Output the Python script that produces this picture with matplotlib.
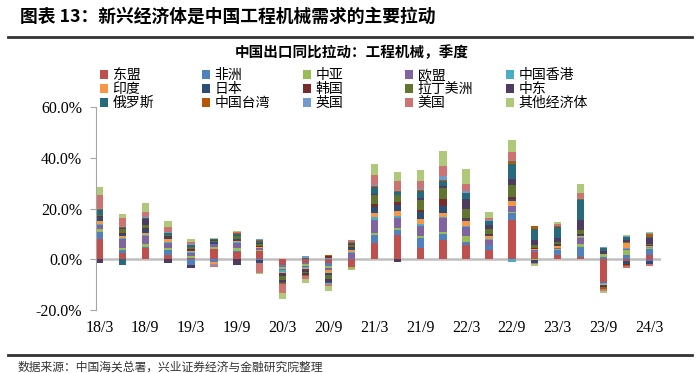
import numpy as np
import matplotlib
matplotlib.use("Agg")
import matplotlib.pyplot as plt
from matplotlib.patches import Patch
from matplotlib.lines import Line2D

plt.rcParams['font.family'] = ['Noto Sans CJK SC', 'DejaVu Sans']

# quarters 18/3 .. 24/3
quarters = ['18/3', '18/6', '18/9', '18/12', '19/3', '19/6', '19/9', '19/12',
            '20/3', '20/6', '20/9', '20/12', '21/3', '21/6', '21/9', '21/12',
            '22/3', '22/6', '22/9', '22/12', '23/3', '23/6', '23/9', '23/12', '24/3']

series = ['东盟', '非洲', '中亚', '欧盟', '中国香港', '印度', '日本', '韩国',
          '拉丁美洲', '中东', '俄罗斯', '中国台湾', '英国', '美国', '其他经济体']

colors = ['#C0504D', '#4F81BD', '#9BBB59', '#8064A2', '#4BACC6', '#F79646',
          '#2C4D75', '#772C2A', '#5F7530', '#4D3B62', '#276A7C', '#B65708',
          '#729ACA', '#CD7371', '#AFC97A']

# contributions in percentage points, one list per partner
asean   = [8.1, 2.6, 4.6, 1.6, 0.5, 4.0, 2.9, 3.3, -2.4, -1.6, -1.5, -2.9, 6.5, 9.5, 4.6, 7.7, 5.5, 3.5, 15.5, 2.9, 1.6, 0.8, -8.8, -0.5, 1.7]
africa  = [2.6, 1.1, 0.3, 2.1, -2.2, -1.0, 0.3, -0.3, -0.8, -0.4, -1.0, 0.5, 3.0, 2.0, 3.9, 2.3, 1.3, 2.0, 2.6, 0.3, 2.0, 4.0, 0.8, 1.7, 2.2]
c_asia  = [1.1, 0.9, 1.2, 0.9, 0.6, 0.8, 1.3, 0.5, -0.6, -0.5, -1.0, -0.8, 0.9, 1.0, 0.5, 0.6, 2.2, 0.3, 0.6, -0.4, 0.3, 1.3, 1.3, 2.0, 0.4]
eu      = [1.6, 3.3, 3.1, 1.7, 1.4, 1.2, 1.8, 0.5, -0.5, -0.6, -0.8, 2.0, 5.0, 3.9, 4.0, 5.6, 3.9, 1.9, 2.4, 0.3, 0.4, 2.4, -0.6, 0.4, -0.8]
hk      = [0.3, 0.6, 0.3, 0.3, 0.3, 0.2, 0.6, 0.3, -0.9, -0.3, 0.4, 0.3, 1.3, 0.5, 0.9, 0.5, 0.4, 0.4, -1.0, 0.2, 0.3, 0.3, -0.2, 0.4, 0.6]
india   = [1.3, 0.5, 0.9, 1.3, 0.5, -0.8, 0.3, 0.4, -0.3, -0.6, -1.0, 1.0, 1.6, 2.0, 2.0, 1.7, 1.7, 0.9, 1.8, 0.3, 0.6, 0.5, -0.4, 1.9, 0.3]
japan   = [1.5, 1.0, 1.7, 0.8, 0.5, 0.5, 0.6, -1.0, -0.7, -0.8, -0.8, 0.8, 2.1, 2.4, 2.6, 2.6, 0.8, 0.6, 1.0, -1.0, 0.5, 0.4, -0.6, -1.2, -0.9]
korea   = [0.5, 0.5, 0.4, 0.4, 0.4, 0.2, 0.3, 0.3, -0.4, -0.3, 0.9, 0.4, 1.3, 1.3, 0.9, 2.9, 0.6, 0.4, 0.5, 0.3, 0.3, 0.4, -0.3, -0.4, 0.3]
latam   = [0.6, 1.3, 0.9, 0.6, 0.8, 0.2, 1.0, 0.6, -1.6, -0.5, -1.8, 0.6, 3.5, 2.6, 3.9, 4.0, 3.5, 1.9, 4.8, 1.3, 0.9, 1.5, -0.6, 0.4, 0.6]
mideast = [-1.6, 0.6, 2.3, -1.3, -1.3, 0.3, -2.4, 0.4, -0.7, -0.7, -1.0, 0.5, 0.7, -1.2, 1.0, 0.9, 3.7, 1.7, 2.6, 2.0, 1.3, 3.7, 1.3, 0.8, 2.3]
russia  = [2.0, -2.2, 0.5, 0.6, 0.6, 0.6, 0.9, 0.8, -0.5, 0.6, -0.6, 0.4, 2.6, 1.3, 2.6, 2.0, 2.4, 1.3, 5.9, 4.5, 4.5, 8.2, 1.0, 1.2, 0.4]
taiwan  = [0.2, 0.3, 0.2, 0.2, 0.2, 0.1, 0.2, 0.4, -0.2, -0.2, 0.3, 0.2, 0.3, 0.3, 0.3, 0.6, 0.3, 0.2, 0.9, 0.9, 0.3, 0.3, -0.4, -0.5, 1.2]
uk      = [0.4, 0.4, 0.3, 0.3, 0.2, -0.3, 0.2, 0.3, -0.3, 0.5, -0.4, 0.2, 0.6, 0.5, 0.6, 1.3, 0.5, 0.3, 0.5, 0.2, 0.2, 0.2, 0.4, 0.3, 0.3]
usa     = [5.0, 3.0, 2.0, 2.0, 0.6, -0.9, 0.5, -4.0, -3.6, -1.4, -0.8, 0.6, 3.9, 3.7, 2.9, 4.2, 3.0, 0.9, 3.3, -0.3, 0.8, 2.0, -0.6, -0.9, -1.1]
others  = [3.2, 1.7, 3.6, 2.2, 1.2, 0.2, 0.4, -0.6, -2.2, -1.4, -2.0, -0.6, 4.2, 3.5, 4.6, 5.6, 5.9, 2.2, 4.6, -0.8, 0.6, 3.7, -0.8, 0.6, 0.4]

data = [asean, africa, c_asia, eu, hk, india, japan, korea, latam, mideast,
        russia, taiwan, uk, usa, others]

fig = plt.figure(figsize=(7, 3.73), dpi=100)
ax = fig.add_axes([0.137, 0.169, 0.807, 0.544])

x = np.arange(len(quarters))
pos_base = np.zeros(len(quarters))
neg_base = np.zeros(len(quarters))
for name, vals, col in zip(series, data, colors):
    v = np.array(vals)
    p = np.where(v > 0, v, 0)
    n = np.where(v < 0, v, 0)
    ax.bar(x, p, 0.32, bottom=pos_base, color=col, linewidth=0)
    ax.bar(x, n, 0.32, bottom=neg_base, color=col, linewidth=0)
    pos_base += p
    neg_base += n

ax.axhline(0, color='#BFBFBF', lw=1.8, zorder=0)
ax.set_xlim(-0.15, 24.5)
ax.set_ylim(-20, 60)
ax.set_yticks([-20, 0, 20, 40, 60])
ax.set_yticklabels(['-20.0%', '0.0%', '20.0%', '40.0%', '60.0%'],
                   family='Liberation Serif', fontsize=11.5)
ax.set_xticks(x[::2])
ax.set_xticklabels(quarters[::2], family='Liberation Serif', fontsize=11.5)
ax.tick_params(axis='x', length=0, pad=7)
ax.tick_params(axis='y', length=4, color='#A6A6A6', pad=6)
for s in ['top', 'right', 'bottom']:
    ax.spines[s].set_visible(False)
ax.spines['left'].set_color('#A6A6A6')

# legend, row by row, five columns at even spacing
col_x = [100, 202, 303, 405, 506]
for c in range(5):
    idx = [c, c + 5, c + 10]
    handles = [Patch(facecolor=colors[i], edgecolor='none') for i in idx]
    leg = fig.legend(handles, [series[i] for i in idx], loc='upper left',
                     bbox_to_anchor=(col_x[c] / 700, 1 - 68 / 373),
                     frameon=False, fontsize=10, handlelength=0.6, handleheight=0.6,
                     handletextpad=0.3, labelspacing=0.0, borderpad=0, borderaxespad=0)

fig.text(20 / 700, 1 - 17 / 373, '图表 13：新兴经济体是中国工程机械需求的主要拉动',
         fontsize=12.8, fontweight='bold', va='center', ha='left')
fig.add_artist(Line2D([8 / 700, 692 / 700], [1 - 37 / 373] * 2, color='#333333', lw=2))
fig.text(352 / 700, 1 - 52 / 373, '中国出口同比拉动：工程机械，季度',
         fontsize=10.5, fontweight='bold', va='center', ha='center')
fig.add_artist(Line2D([8 / 700, 692 / 700], [1 - 355 / 373] * 2, color='#333333', lw=2))
fig.text(18 / 700, 1 - 367 / 373, '数据来源：中国海关总署，兴业证券经济与金融研究院整理',
         fontsize=8.5, color='#333333', va='center', ha='left')

fig.savefig('out.png', dpi=100)
